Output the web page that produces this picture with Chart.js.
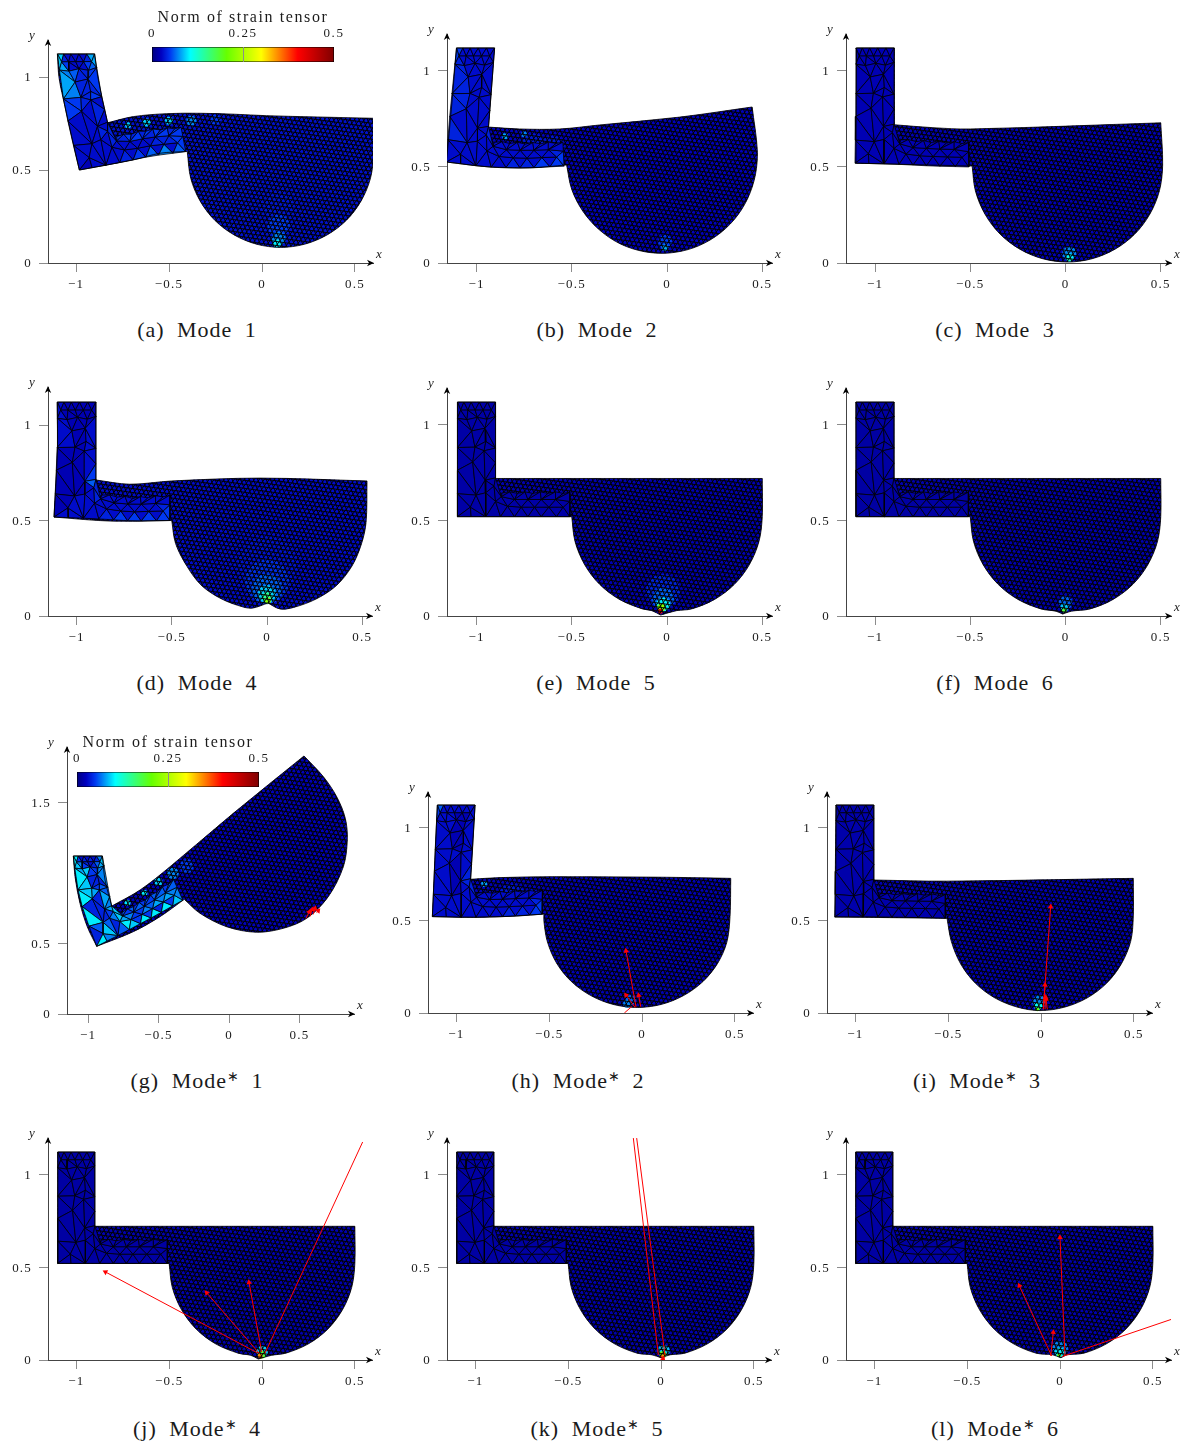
<!DOCTYPE html>
<html><head><meta charset="utf-8">
<script src="https://cdn.jsdelivr.net/npm/chart.js@4"></script>
<style>
html,body{margin:0;padding:0;background:#fff;width:1192px;height:1446px;overflow:hidden}
canvas{position:absolute}
.cap{position:absolute;transform:translateX(-50%);font:22px "Liberation Serif",serif;color:#1a1a1a;white-space:nowrap;word-spacing:6px;letter-spacing:1px;line-height:24px}
.cap sup{font-size:14px;line-height:0;vertical-align:7px;letter-spacing:0}
</style></head><body>
<script>
// ---------- tick labels ----------
const xTickValues=[-1,-0.5,0,0.5];
const yTickValues=[0,0.5,1];
const yTickValuesG=[0,0.5,1.5];
const colorbarTicks=[0,0.25,0.5];
const colorbarRange=[0,0.5];
const colorbarStops=[[0,'#00007f'],[0.05,'#0000c0'],[0.1,'#0038f0'],[0.21,'#00ffff'],[0.41,'#66ff00'],[0.6,'#ffff00'],[0.8,'#ff0000'],[1,'#7f0000']];
const panelLetters=['a','b','c','d','e','f','g','h','i','j','k','l'];
const panelModes=[1,2,3,4,5,6,1,2,3,4,5,6];

// ---------- coarse mesh of the undeformed L-shaped part ----------
const meshNodes=[[-1.1,1.12],[-1.066,1.12],[-1.028,1.12],[-0.985,1.12],[-0.942,1.12],[-0.9,1.12],
[-1.083,1.078],[-1.045,1.078],[-1.007,1.078],[-0.965,1.078],[-0.922,1.078],
[-1.1,1.035],[-1.05,1.028],[-0.995,1.04],[-0.945,1.03],[-0.9,1.045],
[-1.025,0.969],[-0.955,0.983],[-1.1,0.882],[-1.008,0.884],[-0.951,0.914],[-0.9,0.879],[-0.96,0.865],
[-1.02,0.806],[-0.9,0.801],[-1.1,0.763],[-0.955,0.711],[-0.9,0.723],[-1.1,0.64],[-1.002,0.633],
[-0.951,0.645],[-0.908,0.68],[-1.1,0.52],[-1.032,0.57],[-1.028,0.52],[-0.951,0.52],[-0.9,0.6],
[-0.874,0.52],[-0.8,0.52],[-0.73,0.52],[-0.66,0.52],[-0.58,0.52],[-0.51,0.52],
[-0.837,0.575],[-0.765,0.57],[-0.695,0.57],[-0.62,0.57],[-0.545,0.57],[-0.51,0.6],
[-0.87,0.625],[-0.8,0.61],[-0.73,0.61],[-0.66,0.61],[-0.585,0.61],
[-0.865,0.645],[-0.825,0.65],[-0.785,0.642],[-0.745,0.65],[-0.705,0.642],[-0.665,0.65],[-0.625,0.642],[-0.585,0.65],[-0.545,0.642],[-0.51,0.648]];
const meshTriangles=[[0,1,6],[1,6,7],[1,2,7],[2,7,8],[2,3,8],[3,8,9],[3,4,9],[4,9,10],[4,5,10],
[0,6,11],[6,11,12],[6,7,12],[7,12,13],[7,8,13],[8,9,13],[9,13,14],[9,10,14],[10,14,15],[5,10,15],
[11,12,16],[12,13,16],[13,16,17],[13,14,17],[14,15,17],
[11,16,18],[16,18,19],[16,17,19],[17,19,20],[17,20,21],[15,17,21],[19,20,22],[20,21,22],
[18,19,23],[19,22,23],[18,23,25],[22,23,26],[21,22,24],[22,24,26],[24,26,27],
[23,25,29],[23,26,29],[25,28,29],[26,29,30],[26,27,31],[26,30,31],
[28,29,33],[28,32,33],[32,33,34],[33,34,35],[29,33,35],[29,30,35],[30,35,36],[30,31,36],[35,36,37],[36,37,43],[36,43,49],[31,36,49],[27,31,49],
[37,38,43],[38,43,44],[38,39,44],[39,44,45],[39,40,45],[40,45,46],[40,41,46],[41,46,47],[41,42,47],[42,47,48],
[43,44,50],[43,49,50],[44,45,51],[44,50,51],[45,46,52],[45,51,52],[46,47,53],[46,52,53],[47,48,53],
[49,54,55],[49,50,55],[50,55,56],[50,56,57],[50,51,57],[51,57,58],[51,58,59],[51,52,59],[52,59,60],[52,60,61],[52,53,61],[53,61,62],[53,62,63],[48,53,63]];

// ---------- strain per coarse triangle, in units of 0.01 ----------
const strainA=[9,4,3,3,3,3,3,4,8, 9,8,5,3,3,3,3,5,6,8, 7,6,4,4,5, 8,7,4,4,4,5,4,5, 5,4,5,3,3,4,3, 3,3,3,3,3,4, 3,3,2,3,3,3,3,3,3,3,3,4,4, 4,3,5,3,6,3,7,3,6,5, 3,3,3,3,4,3,4,4,5, 5,4,5,4,5,4,5,4,5,4,5,4,5,5];
const strainB=[5,3,3,3,3,3,3,3,3, 5,4,3,3,3,3,3,3,3,3, 4,3,3,3,3, 4,4,3,3,3,3,3,3, 4,3,4,3,3,3,3, 3,3,4,3,3,3, 3,3,3,3,3,3,3,3,3,3,3,3,4, 3,3,4,3,4,3,5,3,5,5, 3,3,3,3,3,3,3,3,4, 3,3,3,3,3,3,3,3,3,3,3,3,3,3];
const strainD=[3,2,2,2,2,2,2,2,2, 3,3,2,2,2,2,2,2,2,2, 3,2,2,2,2, 3,3,2,2,3,3,2,3, 2,2,2,2,3,3,5, 2,2,2,2,6,3, 2,2,3,3,3,3,3,3,3,3,3,4,4, 4,3,5,3,5,3,5,3,5,5, 3,3,3,3,3,3,3,3,4, 3,3,3,3,3,3,3,3,3,3,3,3,3,3];
const strainG=[10,5,3,4,3,4,3,4,7, 10,9,7,5,4,3,4,6,8,9, 8,9,5,5,7, 10,9,4,4,4,7,5,6, 9,8,10,4,6,8,7, 4,4,10,4,8,5, 6,4,10,7,9,6,4,7,6,10,8,9,9, 9,5,10,5,10,4,10,5,9,7, 5,7,7,5,8,6,8,7,7, 6,5,6,5,6,5,6,5,6,5,6,5,6,6];
const strainH=[6,3,3,3,3,3,3,3,3, 5,3,3,3,3,2,2,2,3,3, 3,3,2,2,3, 3,3,2,2,3,3,2,3, 3,3,3,2,3,3,4, 3,2,3,2,4,3, 3,3,3,3,3,3,3,3,3,3,3,3,4, 3,3,3,3,4,3,4,3,5,5, 3,3,3,3,3,3,3,3,4, 3,3,3,3,3,3,3,3,3,3,3,3,3,3];
const restStrain=[0,0,2,0,1.5,1.4,0,0,1.7,1.4,1.4,1.4];
const panelStrains=[strainA,strainB,null,strainD,null,null,strainG,strainH,null,null,null,null];
const baseStrain=[0.032,0.024,0.021,0.03,0.02,0.019,0.023,0.021,0.02,0.019,0.019,0.019];

// ---------- deformed control points of the L part:
// TL,TR, L.92,R.92, L.72,C.72,A.72,B.72, L.52,C.52,A.52,B.52 ----------
const gridRest=[[-1.1,1.12],[-0.9,1.12],[-1.1,0.92],[-0.9,0.92],[-1.1,0.72],[-0.9,0.72],[-0.7,0.72],[-0.5,0.72],[-1.1,0.52],[-0.9,0.52],[-0.7,0.52],[-0.5,0.52]];
const gridA=[[-1.1,1.124],[-0.9,1.124],[-1.075,0.92],[-0.87,0.93],[-1.035,0.72],[-0.83,0.754],[-0.635,0.795],[-0.44,0.805],[-0.982,0.5],[-0.79,0.535],[-0.595,0.575],[-0.4,0.6]];
const gridB=[[-1.105,1.12],[-0.905,1.12],[-1.125,0.92],[-0.92,0.92],[-1.145,0.72],[-0.937,0.708],[-0.74,0.698],[-0.54,0.7],[-1.158,0.526],[-0.95,0.5],[-0.74,0.495],[-0.53,0.505]];
const gridC=[[-1.1,1.12],[-0.9,1.12],[-1.1,0.92],[-0.9,0.92],[-1.102,0.72],[-0.9,0.72],[-0.7,0.705],[-0.5,0.698],[-1.105,0.52],[-0.9,0.515],[-0.7,0.505],[-0.497,0.5]];
const gridD=[[-1.1,1.12],[-0.898,1.12],[-1.1,0.92],[-0.898,0.92],[-1.108,0.72],[-0.898,0.712],[-0.7,0.69],[-0.5,0.707],[-1.118,0.518],[-0.91,0.51],[-0.7,0.497],[-0.5,0.5]];
const gridG=[[-1.104,1.123],[-0.898,1.123],[-1.08,0.92],[-0.865,0.935],[-1.03,0.72],[-0.832,0.767],[-0.63,0.885],[-0.42,1.047],[-0.938,0.481],[-0.735,0.585],[-0.52,0.7],[-0.317,0.815]];
const gridH=[[-1.102,1.12],[-0.899,1.12],[-1.112,0.92],[-0.91,0.92],[-1.12,0.72],[-0.923,0.72],[-0.72,0.73],[-0.525,0.734],[-1.129,0.519],[-0.92,0.515],[-0.72,0.52],[-0.528,0.533]];
const gridI=[[-1.104,1.12],[-0.9,1.12],[-1.104,0.92],[-0.9,0.92],[-1.107,0.72],[-0.9,0.716],[-0.7,0.712],[-0.505,0.71],[-1.11,0.517],[-0.905,0.518],[-0.7,0.515],[-0.506,0.51]];
const panelGrids=[gridA,gridB,gridC,gridD,gridRest,gridRest,gridG,gridH,gridI,gridRest,gridRest,gridRest];

// ---------- outlines of the deformed shapes ----------
const outlineA=[[-1.1,1.124],[-0.9,1.124],[-0.883,1.002],[-0.857,0.876],[-0.83,0.754],[-0.692,0.787],[-0.512,0.803],[-0.333,0.805],[-0.15,0.8],[0.025,0.792],[0.3,0.785],[0.602,0.778],[0.6,0.584],[0.583,0.455],[0.533,0.334],[0.454,0.23],[0.35,0.151],[0.229,0.101],[0.1,0.084],[-0.029,0.101],[-0.15,0.151],[-0.254,0.23],[-0.333,0.334],[-0.383,0.455],[-0.402,0.6],[-0.548,0.59],[-0.693,0.554],[-0.982,0.5],[-1.023,0.679],[-1.059,0.84],[-1.091,0.994]];
const outlineB=[[-1.105,1.12],[-0.905,1.12],[-0.937,0.708],[-0.774,0.698],[-0.563,0.698],[-0.353,0.719],[0.068,0.76],[0.447,0.8125],[0.474,0.589],[0.464,0.459],[0.423,0.335],[0.352,0.225],[0.255,0.138],[0.139,0.079],[0.011,0.052],[-0.119,0.059],[-0.244,0.099],[-0.352,0.17],[-0.44,0.267],[-0.5,0.383],[-0.527,0.511],[-0.72,0.495],[-0.93,0.5],[-1.158,0.526],[-1.13,0.823]];
const outlineC=[[-1.097,1.12],[-0.898,1.12],[-0.898,0.72],[-0.7,0.705],[-0.5,0.698],[0.5,0.73],[0.51,0.51],[0.493,0.376],[0.443,0.255],[0.364,0.151],[0.26,0.072],[0.139,0.022],[0.01,0.005],[-0.119,0.022],[-0.24,0.072],[-0.344,0.151],[-0.423,0.255],[-0.473,0.376],[-0.49,0.505],[-0.9,0.515],[-1.1,0.52]];
const outlineD=[[-1.102,1.12],[-0.898,1.12],[-0.898,0.712],[-0.72,0.69],[-0.5,0.707],[-0.037,0.722],[0.525,0.707],[0.52,0.49],[0.495,0.375],[0.445,0.26],[0.365,0.16],[0.26,0.09],[0.14,0.045],[0.068,0.037],[0.005,0.068],[-0.073,0.042],[-0.125,0.047],[-0.24,0.09],[-0.344,0.16],[-0.42,0.26],[-0.48,0.38],[-0.5,0.5],[-0.824,0.497],[-1.118,0.518],[-1.1,0.87]];
const rigidRight=[[-1.1,1.12],[-0.9,1.12],[-0.9,0.72],[0.5,0.72],[0.5,0.52],[0.483,0.391],[0.433,0.27],[0.354,0.166],[0.25,0.087],[0.129,0.037]];
const rigidLeft=[[-0.129,0.037],[-0.25,0.087],[-0.354,0.166],[-0.433,0.27],[-0.483,0.391],[-0.5,0.52],[-1.1,0.52]];
const notchE=[[0.05,0.028],[-0.033,0.005],[-0.08,0.028]];
const notchF=[[0.03,0.025],[-0.015,0.01],[-0.05,0.025]];
const notchJ=[[0.05,0.025],[-0.02,0.005],[-0.06,0.025]];
const notchK=[[0.05,0.028],[0.0,0.012],[-0.05,0.028]];
const notchL=[[0.04,0.028],[0.005,0.012],[-0.04,0.028]];
const outlineG=[[-1.104,1.123],[-0.898,1.123],[-0.879,0.952],[-0.832,0.767],[-0.631,0.881],[-0.418,1.047],[0.03,1.426],[0.532,1.834],[0.669,1.687],[0.764,1.544],[0.825,1.39],[0.839,1.237],[0.811,1.047],[0.704,0.834],[0.551,0.68],[0.385,0.609],[0.196,0.581],[-0.016,0.62],[-0.206,0.716],[-0.317,0.815],[-0.489,0.692],[-0.679,0.585],[-0.938,0.481],[-1.005,0.62],[-1.057,0.787],[-1.092,0.976]];
const outlineH=[[-1.102,1.12],[-0.899,1.12],[-0.923,0.72],[-0.765,0.729],[-0.495,0.734],[0.133,0.731],[0.478,0.725],[0.474,0.519],[0.457,0.382],[0.407,0.267],[0.328,0.169],[0.224,0.094],[0.103,0.046],[-0.026,0.03],[-0.155,0.046],[-0.276,0.094],[-0.38,0.169],[-0.459,0.267],[-0.509,0.382],[-0.528,0.492],[-0.528,0.533],[-0.675,0.522],[-0.908,0.515],[-1.129,0.519]];
const outlineI=[[-1.104,1.12],[-0.9,1.12],[-0.9,0.716],[-0.508,0.71],[0.497,0.725],[0.497,0.519],[0.483,0.386],[0.433,0.265],[0.354,0.161],[0.25,0.082],[0.129,0.032],[-0.005,0.013],[-0.129,0.032],[-0.25,0.082],[-0.354,0.161],[-0.433,0.265],[-0.483,0.386],[-0.506,0.51],[-1.11,0.517]];
const panelOutlines=[outlineA,outlineB,outlineC,outlineD,[...rigidRight,...notchE,...rigidLeft],[...rigidRight,...notchF,...rigidLeft],outlineG,outlineH,outlineI,[...rigidRight,...notchJ,...rigidLeft],[...rigidRight,...notchK,...rigidLeft],[...rigidRight,...notchL,...rigidLeft]];
// outline vertices that are sharp corners
const rigidCorners=[0,1,2,3,11,18,19];
const panelCorners=[[0,1,4,11,24,27],[0,1,2,7,20,23],[0,1,2,5,18,20],[0,1,2,6,14,21,23],rigidCorners,rigidCorners,[0,1,3,7,19,22],[0,1,2,6,20,23],[0,1,2,4,17,18],rigidCorners,rigidCorners,rigidCorners];

// ---------- strain concentrations: x, y, strain, size ----------
const hotA=[[0.09,0.3,0.035,15],[0.09,0.2,0.05,11],[0.09,0.13,0.07,7],[0.08,0.105,0.1,4],[-0.6,0.66,0.05,7],[-0.25,0.77,0.05,5],[-0.38,0.765,0.07,5],[-0.5,0.765,0.09,4],[-0.62,0.755,0.09,4],[-0.72,0.74,0.09,3]];
const hotB=[[-0.7,0.6,0.035,14],[-0.6,0.6,0.035,12],[-0.85,0.66,0.08,3],[-0.75,0.67,0.07,3],[-0.01,0.11,0.05,7],[-0.01,0.08,0.08,3.5]];
const hotC=[[0.02,0.05,0.07,7],[0.02,0.03,0.1,4],[0.02,0.02,0.13,2.5]];
const hotD=[[0,0.26,0.033,30],[0,0.18,0.045,22],[0,0.14,0.06,15],[0,0.115,0.09,9],[0,0.098,0.15,5],[0.005,0.08,0.22,3]];
const hotE=[[-0.02,0.13,0.04,17],[-0.02,0.09,0.06,11],[-0.02,0.06,0.1,7],[-0.03,0.045,0.22,4],[-0.035,0.025,0.42,2.5]];
const hotF=[[0,0.07,0.06,7],[-0.005,0.045,0.09,4],[-0.005,0.03,0.18,2.5]];
const hotG=[[-0.5,0.8,0.06,8],[-0.3,1.05,0.05,7],[-0.4,1.0,0.07,6],[-0.5,0.94,0.09,4],[-0.6,0.86,0.1,3],[-0.72,0.79,0.1,3]];
const hotH=[[-0.7,0.62,0.035,14],[-0.6,0.6,0.04,12],[-0.85,0.695,0.08,3],[-0.06,0.07,0.06,5],[-0.08,0.05,0.07,4]];
const hotI=[[-0.01,0.06,0.07,7],[-0.015,0.035,0.11,4],[-0.02,0.02,0.2,2]];
const hotJ=[[0,0.045,0.09,6],[0,0.03,0.18,4],[-0.01,0.02,0.35,2.5]];
const hotK=[[0.015,0.05,0.09,6],[0.01,0.03,0.2,3.5],[0.01,0.02,0.35,2]];
const hotL=[[0,0.06,0.07,8],[0,0.04,0.1,5],[-0.005,0.025,0.2,2]];
const panelHot=[hotA,hotB,hotC,hotD,hotE,hotF,hotG,hotH,hotI,hotJ,hotK,hotL];

// ---------- red arrows: from x,y to x,y; the flag says if a head is drawn ----------
const arrowsG=[[0.546,0.68,0.57,0.727,1],[0.574,0.692,0.591,0.744,1],[0.598,0.708,0.61,0.751,1],[0.622,0.72,0.633,0.734,1]];
const arrowsH=[[-0.032,0.031,-0.086,0.334,1],[-0.038,0.031,-0.086,0.097,1],[-0.007,0.034,-0.018,0.095,1],[-0.055,0.035,-0.095,0,0]];
const arrowsI=[[0.0125,0.02,0.052,0.572,1],[0.0125,0.02,0.0215,0.151,1],[0.0215,0.02,0.025,0.085,1],[0.034,0.02,0.027,0.074,1]];
const arrowsJ=[[-0.02,0.036,-0.843,0.474,1],[-0.015,0.036,-0.298,0.362,1],[-0.002,0.043,-0.07,0.418,1],[0.016,0.036,0.542,1.174,0]];
const arrowsK=[[-0.0144,0.027,-0.149,1.195,0],[0.0215,0.027,-0.131,1.195,0],[0,0.02,0.012,0.006,1]];
const arrowsL=[[0.027,0.0215,0,0.66,1],[-0.045,0.0215,-0.219,0.4,1],[-0.05,0.0215,-0.036,0.149,1],[0.009,0.018,0.6,0.219,0]];
const panelArrows=[[],[],[],[],[],[],arrowsG,arrowsH,arrowsI,arrowsJ,arrowsK,arrowsL];

// ---------- page layout: yAxisX, xAxisY, x0 pixel, px per unit x, px per unit y, arrow end x, arrow top y ----------
const panelLayout=[[48,263,262,186,186,373,40],[447,263,667,190.5,192,772,34],[846,263,1065.5,190.5,192,1171,34],
[48,616,267,190.5,191,372,387],[447,616,667,190.5,191,772,388],[846,616,1065.5,190.5,191,1171,388],
[67,1014,229,141,140.7,354,747],[428,1013,642,185.7,185.7,753,792],[827,1013,1041,185.7,185.7,1152,792],
[48,1360,262,185.7,185.7,372,1138],[447,1360,661,185.7,185.7,771,1138],[846,1360,1060,185.7,185.7,1171,1138]];
const captionLayout=[[197,318],[597,318],[995,318],[197,671],[596,671],[995,671],[197,1069],[578,1069],[977,1069],[197,1417],[597,1417],[995,1417]];
const colorbarLayout=[[152,47,334,62],[77,772,259,787]];

// ---------- helpers ----------
const SERIF='"Liberation Serif",serif';
const INK='#1c1c1c';
function hex(c){return [parseInt(c.slice(1,3),16),parseInt(c.slice(3,5),16),parseInt(c.slice(5,7),16)]}
function jet(v){
  const t=Math.min(1,Math.max(0,v/colorbarRange[1]));
  for(let i=1;i<colorbarStops.length;i++){
    if(t<=colorbarStops[i][0]){
      const [a,ca]=colorbarStops[i-1],[b,cb]=colorbarStops[i],f=(t-a)/(b-a),A=hex(ca),B=hex(cb);
      return `rgb(${A.map((q,k)=>Math.round(q+(B[k]-q)*f)).join(',')})`;
    }
  }
  return colorbarStops[colorbarStops.length-1][1];
}
// the fine triangulation of the disc is drawn as a fill texture of three families of lines
function latticePattern(){
  const size=520,step=3.95,c=document.createElement('canvas');c.width=size;c.height=size;
  const g=c.getContext('2d');g.strokeStyle='#000';g.lineWidth=0.9;
  [8,68,128].forEach(a=>{
    g.save();g.translate(size/2,size/2);g.rotate(a*Math.PI/180);g.beginPath();
    for(let d=-size;d<=size;d+=step){g.moveTo(-size,d);g.lineTo(size,d);}
    g.stroke();g.restore();
  });
  return g.createPattern(c,'repeat');
}
const cells=[[0,1,2,3,1.12,0.92,-1.1,-0.9],[2,3,4,5,0.92,0.72,-1.1,-0.9],[4,5,8,9,0.72,0.52,-1.1,-0.9],[5,6,9,10,0.72,0.52,-0.9,-0.7],[6,7,10,11,0.72,0.52,-0.7,-0.5]];
function place(n,G){
  const [X,Y]=n;
  let c=cells[0];
  if(Y>=0.92)c=cells[0];else if(Y>=0.72&&X<=-0.9)c=cells[1];
  else if(X<=-0.9)c=cells[2];else if(X<=-0.7)c=cells[3];else c=cells[4];
  const u=(X-c[6])/(c[7]-c[6]),v=(Y-c[4])/(c[5]-c[4]);
  const p=k=>(1-u)*(1-v)*G[c[0]][k]+u*(1-v)*G[c[1]][k]+(1-u)*v*G[c[2]][k]+u*v*G[c[3]][k];
  return {x:p(0),y:p(1)};
}
const asPts=a=>a.map(p=>({x:p[0],y:p[1]}));
const line={showLine:true,pointRadius:0,pointHoverRadius:0,tension:0,borderJoinStyle:'round'};
const axisArrows={id:'axisArrows',
  beforeDraw(ch){ch.ctx.letterSpacing='1.2px';},
  afterDraw(ch){
    const {ctx,chartArea:a}=ch;ctx.save();ctx.letterSpacing='0px';ctx.fillStyle='#000';
    ctx.beginPath();ctx.moveTo(a.right+1,a.bottom);ctx.lineTo(a.right-6,a.bottom-3.2);ctx.lineTo(a.right-4,a.bottom);ctx.lineTo(a.right-6,a.bottom+3.2);ctx.closePath();ctx.fill();
    ctx.beginPath();ctx.moveTo(a.left,a.top-1);ctx.lineTo(a.left-3.2,a.top+6);ctx.lineTo(a.left,a.top+4);ctx.lineTo(a.left+3.2,a.top+6);ctx.closePath();ctx.fill();
    ctx.font='italic 13px '+SERIF;ctx.fillStyle=INK;ctx.textAlign='center';ctx.textBaseline='middle';
    ctx.fillText('x',a.right+6,a.bottom-8);ctx.fillText('y',a.left-16,a.top-4);ctx.restore();
  }};
const fmt=v=>String(v).replace('-','\u2212');

// ---------- panels ----------
const lattice=latticePattern();
panelLayout.forEach((L,i)=>{
  const [ax,ay,x0,sx,sy,endX,topY]=L;
  const pad=46,margin=34,left=ax-pad,top=topY-margin,width=endX+margin-left,height=ay+margin-top;
  const cv=document.createElement('canvas');cv.width=width;cv.height=height;
  cv.style.left=left+'px';cv.style.top=top+'px';cv.style.width=width+'px';cv.style.height=height+'px';
  document.body.appendChild(cv);
  const corners=panelCorners[i];
  const outline=[];
  asPts(panelOutlines[i]).forEach((p,k)=>{outline.push(p);if(corners.includes(k))outline.push(p);});
  const closed=[...outline,outline[0]];
  const curve={...line,tension:0.33};
  const ds=[];
  ds.push({...curve,data:closed,fill:'shape',backgroundColor:jet(baseStrain[i]),borderWidth:0});
  const hot=panelHot[i];
  ds.push({data:asPts(hot),showLine:false,pointStyle:'circle',pointRadius:hot.map(h=>h[3]),pointBackgroundColor:hot.map(h=>jet(h[2])),pointBorderWidth:0,pointHoverRadius:0});
  ds.push({...curve,data:closed,fill:'shape',backgroundColor:lattice,borderWidth:0});
  const G=panelGrids[i],S=panelStrains[i];
  meshTriangles.forEach((t,k)=>{
    const pts=t.map(n=>place(meshNodes[n],G));pts.push(pts[0]);
    const v=(S?S[k]:restStrain[i])*0.01;
    ds.push({...line,data:pts,fill:'shape',backgroundColor:jet(v),borderColor:'#000',borderWidth:0.75});
  });
  ds.push({...curve,data:closed,fill:false,borderColor:'#000',borderWidth:0.8});
  panelArrows[i].forEach(a=>{
    const ang=Math.atan2(a[2]-a[0],a[3]-a[1])*180/Math.PI;
    ds.push({...line,data:[{x:a[0],y:a[1]},{x:a[2],y:a[3]}],borderColor:'#ff0000',borderWidth:1,fill:false,
      pointStyle:'triangle',pointRadius:[0,a[4]?3.2:0],pointRotation:[0,ang],pointBackgroundColor:'#ff0000',pointBorderWidth:0});
  });
  ds.forEach((d,k)=>{d.order=ds.length-k;});
  const yTicks=i===6?yTickValuesG:yTickValues;
  new Chart(cv,{type:'scatter',data:{datasets:ds},plugins:[axisArrows],options:{
    responsive:false,animation:false,events:[],devicePixelRatio:1,
    layout:{padding:{left:0,top:margin,right:margin,bottom:0}},
    plugins:{legend:{display:false},tooltip:{enabled:false}},
    scales:{
      x:{type:'linear',bounds:'data',min:(ax-x0)/sx,max:(endX-x0)/sx,
        afterFit:s=>{s.height=margin;},afterBuildTicks:s=>{s.ticks=xTickValues.map(v=>({value:v}));},
        border:{color:'#444',width:1},grid:{drawOnChartArea:false,tickLength:9,tickColor:'#8c8c8c',tickWidth:1},
        ticks:{autoSkip:false,maxRotation:0,padding:5,color:INK,font:{family:SERIF,size:13},callback:fmt}},
      y:{type:'linear',bounds:'data',min:0,max:(ay-topY)/sy,
        afterFit:s=>{s.width=pad;},afterBuildTicks:s=>{s.ticks=yTicks.map(v=>({value:v}));},
        border:{color:'#444',width:1},grid:{drawOnChartArea:false,tickLength:9,tickColor:'#8c8c8c',tickWidth:1},
        ticks:{autoSkip:false,padding:7,labelOffset:1,color:INK,font:{family:SERIF,size:13},callback:fmt}}
    }}});
  const c=document.createElement('div');c.className='cap';
  const [cx,cy]=captionLayout[i];c.style.left=cx+'px';c.style.top=cy+'px';
  c.innerHTML=`(${panelLetters[i]}) Mode${i>=6?'<sup>\u2217</sup>':''} ${panelModes[i]}`;
  document.body.appendChild(c);
});

// ---------- colour bars ----------
colorbarLayout.forEach(B=>{
  const [x1,y1,x2,y2]=B;
  const left=x1-30,top=y1-47,width=x2-x1+60,height=y2-top+2;
  const cv=document.createElement('canvas');cv.width=width;cv.height=height;
  cv.style.left=left+'px';cv.style.top=top+'px';cv.style.width=width+'px';cv.style.height=height+'px';cv.style.zIndex=5;
  document.body.appendChild(cv);
  const grad=cv.getContext('2d').createLinearGradient(30,0,30+x2-x1,0);
  colorbarStops.forEach(s=>grad.addColorStop(s[0],s[1]));
  const lo=colorbarRange[0],hi=colorbarRange[1];
  new Chart(cv,{type:'scatter',plugins:[{id:'spc',beforeDraw(ch){ch.ctx.letterSpacing='1.6px';}}],data:{datasets:[{...line,
    data:[{x:lo,y:0},{x:hi,y:0},{x:hi,y:1},{x:lo,y:1},{x:lo,y:0}],fill:'shape',backgroundColor:grad,borderColor:'#000',borderWidth:1.2}]},
    options:{responsive:false,animation:false,events:[],devicePixelRatio:1,
      layout:{padding:{left:30,right:30,top:0,bottom:2}},
      plugins:{legend:{display:false},tooltip:{enabled:false},
        title:{display:true,text:'Norm of strain tensor',color:INK,font:{family:SERIF,size:16,weight:'normal'},padding:{top:8,bottom:1}}},
      scales:{
        x:{type:'linear',position:'top',bounds:'data',min:lo,max:hi,afterFit:s=>{s.height=18.8;},
          afterBuildTicks:s=>{s.ticks=colorbarTicks.map(v=>({value:v}));},
          border:{display:false},grid:{z:1,drawTicks:false,color:c=>c.tick&&c.tick.value===0.25?'#8c8c8c':'rgba(0,0,0,0)'},
          ticks:{autoSkip:false,maxRotation:0,padding:6,color:INK,font:{family:SERIF,size:13},callback:v=>String(v)}},
        y:{type:'linear',display:false,min:0,max:1,bounds:'data'}
      }}});
});
</script>
</body></html>
